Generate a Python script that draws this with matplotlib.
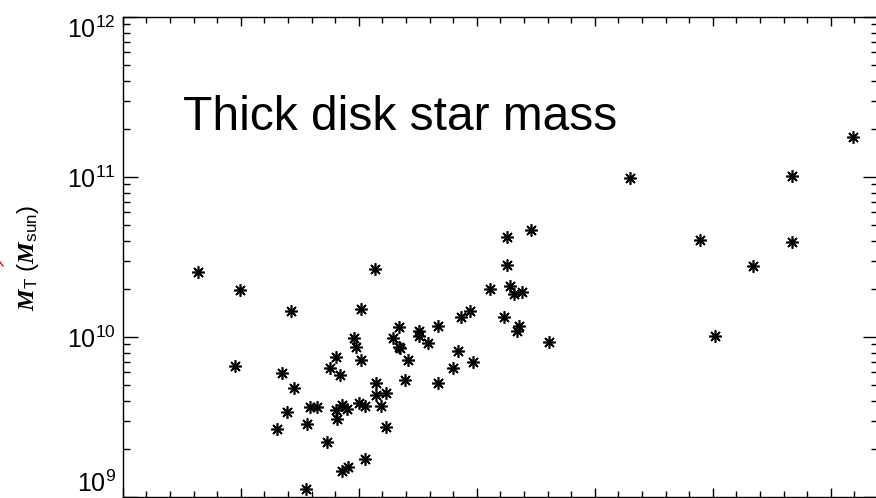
import numpy as np
import matplotlib
matplotlib.use('Agg')
import matplotlib.pyplot as plt
from matplotlib.ticker import MultipleLocator, LogLocator, NullFormatter
from matplotlib.lines import Line2D

plt.rcParams['font.family'] = ['Liberation Sans', 'DejaVu Sans']
plt.rcParams['mathtext.fontset'] = 'custom'
plt.rcParams['mathtext.rm'] = 'Liberation Sans'
plt.rcParams['mathtext.sf'] = 'Liberation Sans'
plt.rcParams['mathtext.it'] = 'Liberation Sans:italic'
plt.rcParams['mathtext.bf'] = 'Liberation Sans:bold'
plt.rcParams['mathtext.bfit'] = 'Liberation Serif:italic:bold'

# x has no tick labels in the original: values are in units of major tick spacing
x_main = [0.64, 0.99, 0.95, 1.43, 1.35, 1.45, 1.39, 1.31, 1.56, 1.55,
          1.59, 1.65, 1.73, 1.76, 1.81, 1.84, 1.81, 1.86, 1.90, 1.82,
          1.86, 1.91, 1.96, 1.98, 2.02, 2.02, 2.00, 2.05, 2.05, 2.14,
          2.15, 2.15, 2.23, 2.19, 2.23, 2.29, 2.34, 2.35, 2.34, 2.39,
          2.42, 2.51, 2.51, 2.59, 2.67, 2.67, 2.80, 2.84, 2.87, 2.94,
          2.97, 3.11, 3.23, 3.26, 3.26, 3.28, 3.32, 3.38, 3.34, 3.36,
          3.46, 3.61]
m_main = [2.54e10, 1.97e10, 6.6e9, 1.46e10, 5.98e9, 4.78e9, 3.39e9, 2.65e9, 2.84e9, 1.13e9,
          3.67e9, 3.67e9, 2.22e9, 6.4e9, 7.5e9, 5.79e9, 3.51e9, 3.74e9, 3.56e9, 3.06e9,
          1.46e9, 1.54e9, 9.8e9, 8.7e9, 1.50e10, 7.2e9, 3.85e9, 3.72e9, 1.73e9, 2.66e10,
          5.16e9, 4.34e9, 4.45e9, 3.72e9, 2.73e9, 9.8e9, 8.7e9, 8.5e9, 1.155e10, 5.39e9,
          7.18e9, 1.09e10, 1.02e10, 9.17e9, 1.17e10, 5.18e9, 6.37e9, 8.21e9, 1.34e10, 1.46e10,
          6.98e9, 2.0e10, 1.34e10, 4.19e10, 2.82e10, 2.08e10, 1.87e10, 1.91e10, 1.09e10, 1.17e10,
          4.69e10, 9.35e9]

x_outer = [4.30, 4.89, 5.02, 5.34, 5.67, 5.67, 6.19]
m_outer = [9.82e10, 4.04e10, 1.01e10, 2.79e10, 1.02e11, 3.91e10, 1.79e11]

y_ticks = [1e9, 1e10, 1e11, 1e12]
y_ticklabels = [r'$\mathdefault{10^{9}}$', r'$\mathdefault{10^{10}}$',
                r'$\mathdefault{10^{11}}$', r'$\mathdefault{10^{12}}$']

W, H = 876, 498
fig = plt.figure(figsize=(W / 100, H / 100), dpi=100)
ax = fig.add_axes([122.7 / W, 1 / H, 755.2 / W, 480 / H])

xs = x_main + x_outer
ms = m_main + m_outer
ax.plot(xs, ms, linestyle='none', marker=(8, 2, 0), markersize=9,
        markeredgewidth=1.2, color='black')

ax.set_yscale('log')
ax.set_ylim(1e9, 1e12)
ax.set_xlim(0, 6.4)

ax.xaxis.set_major_locator(MultipleLocator(1))
ax.xaxis.set_minor_locator(MultipleLocator(0.2))
ax.set_yticks(y_ticks)
ax.set_yticklabels(y_ticklabels)
ax.yaxis.set_minor_locator(LogLocator(base=10, subs=np.arange(2, 10)))
ax.yaxis.set_minor_formatter(NullFormatter())

ax.tick_params(axis='x', which='major', direction='in', length=6.5, width=1,
               top=True, labelbottom=False)
ax.tick_params(axis='x', which='minor', direction='in', length=4, width=1, top=True)
ax.tick_params(axis='y', which='major', direction='in', length=10.5, width=1,
               right=True, labelsize=18, pad=5)
ax.tick_params(axis='y', which='minor', direction='in', length=5.3, width=1, right=True)
for sp in ax.spines.values():
    sp.set_linewidth(1)

for lbl, va in zip(ax.get_yticklabels(), ['bottom', 'center_baseline', 'center_baseline', 'top']):
    lbl.set_verticalalignment(va)

fig.text(183 / W, 1 - 130 / H, 'Thick disk star mass', fontsize=34.5,
         ha='left', va='baseline')
fig.text(28 / W, 1 - 258 / H, r'$\mathbfit{M}_{\mathrm{T}}\ (\mathbfit{M}_{\mathrm{sun}})$',
         rotation=90, ha='center', va='center', fontsize=17.5)

# small red mark at the left edge
fig.add_artist(Line2D([0 / W, 3 / W], [1 - 262 / H, 1 - 266 / H], color='red', lw=1))

fig.savefig('out.png', dpi=100)
